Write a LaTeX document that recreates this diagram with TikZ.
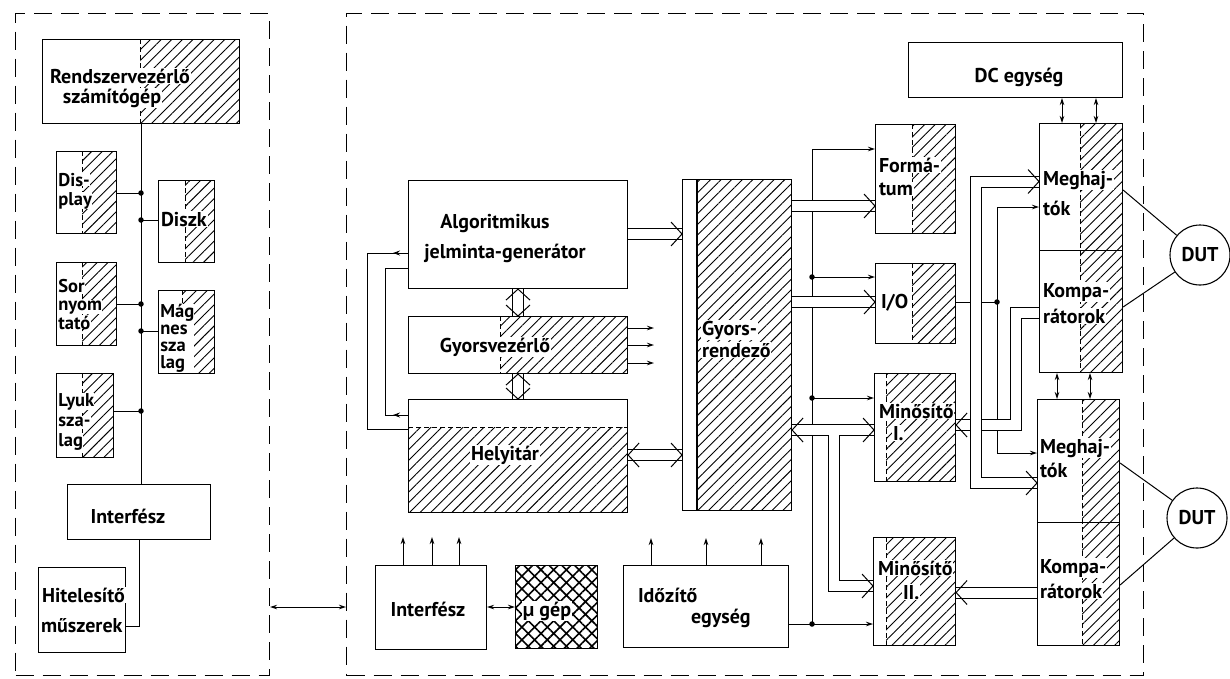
\documentclass[tikz,border=0pt]{standalone}
\usepackage{fontspec}
\setmainfont{PT Sans}
\usetikzlibrary{patterns.meta,arrows.meta,decorations.markings}
\pgfdeclarelayer{wires}
\pgfdeclarelayer{chan}
\pgfsetlayers{wires,chan,main}
\tikzset{
 box/.style={draw, line width=1.1pt, inner sep=0pt},
 hatch/.style={pattern={Lines[angle=45,distance=7.5pt,line width=0.9pt]}},
 xhatch/.style={pattern={Hatch[angle=45,distance=9pt,line width=1.6pt]}},
 lbl/.style={font=\fontsize{20}{22}\selectfont\bfseries, inner sep=0.8pt, fill=white},
 lbls/.style={font=\fontsize{18.5}{19}\selectfont\bfseries, inner sep=0.2pt, fill=white},
 wire/.style={line width=1pt},
 arr/.style={wire,-{Stealth[length=7pt,width=4.5pt]}},
 darr/.style={wire,{Stealth[length=7pt,width=4.5pt]}-{Stealth[length=7pt,width=4.5pt]}},
 chan/.style={double, double distance=10pt, line width=1pt},
 divider/.style={dash pattern=on 5pt off 3pt, line width=0.9pt},
 frame/.style={draw, dash pattern=on 18pt off 9pt, line width=1.1pt, inner sep=0pt},
 dot/.style={circle, fill, inner sep=0pt, minimum size=5.5pt},
 midarrow/.style={postaction={decorate}, decoration={markings, mark=at position 15pt with {\arrow{Stealth[length=7pt,width=5pt]}}}},
 barb/.pic={\draw[line width=1pt] (-11,-12) -- (0,0) -- (-11,12);},
}
\newcommand\blk[5]{\node[box, anchor=north west, minimum width={(#4)-(#2)}, minimum height={(#5)-(#3)}] (#1) at (#2,#3) {};}
\newcommand\hatchr[4]{\fill[hatch] (#1,#2) rectangle (#3,#4);}
\newcommand\vdiv[3]{\draw[divider] (#1,#2) -- (#1,#3);}
\begin{document}
\begin{tikzpicture}[x=1pt,y=-1pt]
\useasboundingbox (0,0) rectangle (1230,678);

% ---------- frames
\node[frame, anchor=north west, minimum width=254, minimum height=662] (lframe) at (15,13) {};
\node[frame, anchor=north west, minimum width=797, minimum height=662] (rframe) at (346,13) {};

% ---------- left boxes
\hatchr{140}{39}{239}{123}\vdiv{140}{39}{123}
\blk{rsz}{42}{39}{239}{123}
\hatchr{82}{151}{116}{233}\vdiv{82}{151}{233}
\blk{disp}{56}{151}{116}{233}
\hatchr{185}{180}{214}{262}\vdiv{185}{180}{262}
\blk{diszk}{158}{180}{214}{262}
\hatchr{82}{262}{116}{345}\vdiv{82}{262}{345}
\blk{sor}{56}{262}{116}{345}
\hatchr{182}{290}{214}{373}\vdiv{182}{290}{373}
\blk{mag}{158}{290}{214}{373}
\hatchr{82}{373}{113}{457}\vdiv{82}{373}{457}
\blk{lyuk}{56}{373}{113}{457}
\blk{lif}{67}{484}{210}{539}
\blk{hit}{38}{567}{125}{652}

% ---------- right boxes
\blk{alg}{408}{180}{627}{288}
\hatchr{500}{316}{627}{373}\vdiv{500}{316}{373}
\blk{gyv}{408}{316}{627}{373}
\hatchr{408}{427}{627}{512}\draw[divider] (408,427) -- (627,427);
\blk{hely}{408}{399}{627}{512}
\hatchr{697}{179}{791}{510}\draw[line width=1.1pt] (697,179) -- (697,510);
\blk{gyr}{682}{179}{791}{510}
\hatchr{912}{124}{955}{233}\vdiv{912}{124}{233}
\blk{fmt}{875}{124}{955}{233}
\hatchr{912}{263}{955}{343}\vdiv{912}{263}{343}
\blk{io}{875}{263}{955}{343}
\hatchr{886}{373}{955}{481}\vdiv{886}{373}{481}
\blk{m1}{874}{373}{955}{481}
\hatchr{886}{537}{955}{645}\vdiv{886}{537}{645}
\blk{m2}{873}{537}{955}{645}
\blk{ido}{623}{565}{788}{647}
\blk{rif}{375}{565}{486}{649}
\fill[xhatch] (515,565) rectangle (597,648);
\blk{mu}{515}{565}{597}{648}
\blk{dc}{908}{42}{1122}{97}
\hatchr{1080}{123}{1122}{372}\vdiv{1080}{123}{372}
\blk{mk1}{1039}{123}{1122}{250}
\blk{kp1}{1039}{250}{1122}{372}
\hatchr{1082}{399}{1119}{645}\vdiv{1082}{399}{645}
\blk{mk2}{1037}{399}{1119}{522}
\blk{kp2}{1037}{522}{1119}{645}
\node[draw, circle, line width=1.1pt, minimum size=60pt, lbl] (dut1) at (1200,255) {DUT};
\node[draw, circle, line width=1.1pt, minimum size=60pt, lbl] (dut2) at (1197,518) {DUT};

% ---------- texts
\node[lbl, anchor=base] (t1) at (120,83) {Rendszervezérlő};
\node[lbl, anchor=base] (t2) at (112,103) {számítógép};
\node[lbls, anchor=base west] at (58,186) {Dis-};
\node[lbls, anchor=base west] at (58,205) {play};
\node[lbl, anchor=base west] at (160,226) {Diszk};
\node[lbls, anchor=base west] at (58,292) {Sor};
\node[lbls, anchor=base west] at (58,310) {nyom};
\node[lbls, anchor=base west] at (58,329) {tató};
\node[lbls, anchor=north west, align=left, font=\fontsize{18.5}{17}\selectfont\bfseries] at (160,304) {Mág\\nes\\sza\\lag};
\node[lbls, anchor=base west] at (58,406) {Lyuk};
\node[lbls, anchor=base west] at (58,426) {sza-};
\node[lbls, anchor=base west] at (58,446) {lag};
\node[lbl, anchor=base] at (128,523) {Interfész};
\node[lbl, anchor=base west] at (41,602) {Hitelesítő};
\node[lbl, anchor=base west] at (40,632) {műszerek};

\node[lbl, anchor=base] at (495,228) {Algoritmikus};
\node[lbl, anchor=base] at (505,258) {jelminta-generátor};
\node[lbl, anchor=base] at (495,352) {Gyorsvezérlő};
\node[lbl, anchor=base] at (505,460) {Helyitár};
\node[lbl, anchor=base west] at (701,335) {Gyors-};
\node[lbl, anchor=base west] at (701,357) {rendező};
\node[lbl, anchor=base west] at (878,172) {Formá-};
\node[lbl, anchor=base west] at (878,195) {tum};
\node[lbl, anchor=base west] at (880,308) {I/O};
\node[lbl, anchor=base west] at (878,418) {Minősítő};
\node[lbl, anchor=base west] at (892,440) {I.};
\node[lbl, anchor=base west] at (877,575) {Minősítő};
\node[lbl, anchor=base west] at (902,599) {II.};
\node[lbl, anchor=base west] at (637,602) {Időzítő};
\node[lbl, anchor=base west] at (690,623) {egység};
\node[lbl, anchor=base] at (428,616) {Interfész};
\node[lbl, anchor=base] at (547,616) {µ gép};
\node[lbl, anchor=base] at (1019,82) {DC egység};
\node[lbl, anchor=base west] at (1042,185) {Meghaj-};
\node[lbl, anchor=base west] at (1042,215) {tók};
\node[lbl, anchor=base west] at (1042,297) {Kompa-};
\node[lbl, anchor=base west] at (1042,323) {rátorok};
\node[lbl, anchor=base west] at (1039,453) {Meghaj-};
\node[lbl, anchor=base west] at (1039,477) {tók};
\node[lbl, anchor=base west] at (1039,573) {Kompa-};
\node[lbl, anchor=base west] at (1039,598) {rátorok};

% ---------- wires
\begin{pgfonlayer}{wires}
\coordinate (b1) at (141,193);
\coordinate (b2) at (141,220);
\coordinate (b3) at (141,304);
\coordinate (b4) at (141,331);
\coordinate (b5) at (141,411);
\draw[wire] (rsz.south -| b1) -- (lif.north -| b1);
\draw[wire] (disp.east |- b1) -- (b1);
\draw[wire] (b2) -- (diszk.west |- b2);
\draw[wire] (sor.east |- b3) -- (b3);
\draw[wire] (b4) -- (mag.west |- b4);
\draw[wire] (lyuk.east |- b5) -- (b5);
\coordinate (hk) at (139,626);
\draw[wire] (lif.south -| hk) -- (hk) -- (hit.east |- hk);
\draw[darr] (lframe.east |- 0,607) -- (rframe.west |- 0,607);

\draw[wire, midarrow] (alg.west |- 0,253) -- (367,253) -- (367,429) -- (hely.west |- 0,429);
\draw[wire, midarrow] (hely.west |- 0,415) -- (385,415) -- (385,268) -- (alg.west |- 0,268);
\foreach \y in {328,345,363} \draw[arr] (gyv.east |- 0,\y) -- (654,\y);
\foreach \x in {651,706,761} \draw[arr] (ido.north -| \x,0) -- (\x,538);
\foreach \x in {403,432,459} \draw[arr] (rif.north -| \x,0) -- (\x,537);
\draw[darr] (rif.east |- 0,607) -- (mu.west |- 0,607);

\coordinate (s0) at (812,149);
\coordinate (s1) at (812,277);
\coordinate (s2) at (812,398);
\coordinate (s3) at (812,624);
\draw[wire] (s0) -- (s3);
\draw[arr] (s0) -- (fmt.west |- s0);
\draw[arr] (s1) -- (io.west |- s1);
\draw[arr] (s2) -- (m1.west |- s2);
\draw[arr] (ido.east |- s3) -- (m2.west |- s3);

\coordinate (q0) at (997,207);
\coordinate (q1) at (997,302);
\coordinate (q2) at (997,453);
\draw[wire] (io.east |- q1) -- (q1);
\draw[wire] (q0) -- (q2);
\draw[arr] (q0) -- (mk1.west |- q0);
\draw[arr] (q2) -- (mk2.west |- q2);
\foreach \x in {1062,1096} \draw[darr] (dc.south -| \x,0) -- (mk1.north -| \x,0);
\foreach \x in {1057,1090} \draw[darr] (kp1.south -| \x,0) -- (mk2.north -| \x,0);
\draw[wire] (mk1.east |- 0,190) -- (dut1);
\draw[wire] (kp1.east |- 0,307) -- (dut1);
\draw[wire] (mk2.east |- 0,463) -- (dut2);
\draw[wire] (kp2.east |- 0,585) -- (dut2);
\end{pgfonlayer}

% ---------- hollow channels
\begin{pgfonlayer}{chan}
\draw[chan] (alg.east |- 0,234) -- (gyr.west |- 0,234);
\draw[chan] (hely.east |- 0,455) -- (gyr.west |- 0,455);
\draw[chan] (alg.south -| 518,0) -- (gyv.north -| 518,0);
\draw[chan] (gyv.south -| 518,0) -- (hely.north -| 518,0);
\draw[chan] (gyr.east |- 0,206) -- (fmt.west |- 0,206);
\draw[chan] (gyr.east |- 0,302) -- (io.west |- 0,302);
\draw[chan] (gyr.east |- 0,430) -- (m1.west |- 0,430);
\draw[chan] (833.5,435) -- (833.5,586) -- (m2.west |- 0,586);
\draw[chan] (kp1.west |- 0,312.5) -- (1016,312.5) -- (1016,425) -- (m1.east |- 0,425);
\draw[chan] (mk1.west |- 0,181.5) -- (975.5,181.5) -- (975.5,483) -- (mk2.west |- 0,483);
\draw[chan] (kp2.west |- 0,592.5) -- (m2.east |- 0,592.5);
\end{pgfonlayer}

% ---------- barbs
\pic at (gyr.west |- 0,234) {barb};
\pic[rotate=180] at (hely.east |- 0,455) {barb};
\pic at (gyr.west |- 0,455) {barb};
\pic[rotate=90] at (alg.south -| 518,0) {barb};
\pic[rotate=-90] at (gyv.north -| 518,0) {barb};
\pic[rotate=90] at (gyv.south -| 518,0) {barb};
\pic[rotate=-90] at (hely.north -| 518,0) {barb};
\pic at (fmt.west |- 0,206) {barb};
\pic at (io.west |- 0,302) {barb};
\pic at (m1.west |- 0,430) {barb};
\pic[rotate=180] at (gyr.east |- 0,430) {barb};
\pic at (m2.west |- 0,586) {barb};
\pic[rotate=180] at (m1.east |- 0,425) {barb};
\pic at (mk1.west |- 0,181.5) {barb};
\pic at (mk2.west |- 0,483) {barb};
\pic[rotate=180] at (m2.east |- 0,592.5) {barb};

% ---------- dots
\foreach \c in {b1,b2,b3,b4,b5,s1,s2,s3,q1} \node[dot] at (\c) {};
\end{tikzpicture}
\end{document}
